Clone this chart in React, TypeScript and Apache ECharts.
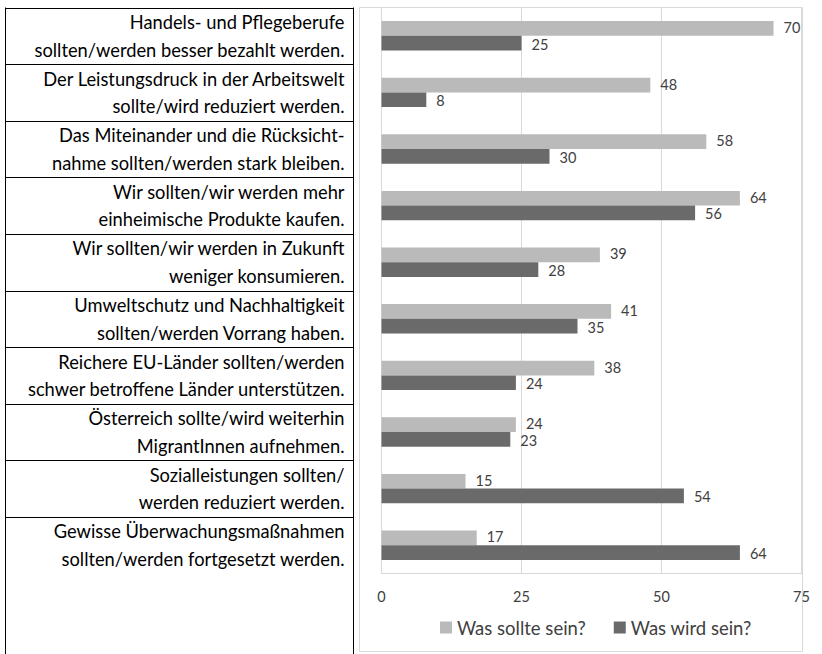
import React, { useEffect, useRef } from "react";
import * as echarts from "echarts";

const categories = [
  "Handels- und Pflegeberufe\nsollten/werden besser bezahlt werden.",
  "Der Leistungsdruck in der Arbeitswelt\nsollte/wird reduziert werden.",
  "Das Miteinander und die Rücksicht-\nnahme sollten/werden stark bleiben.",
  "Wir sollten/wir werden mehr\neinheimische Produkte kaufen.",
  "Wir sollten/wir werden in Zukunft\nweniger konsumieren.",
  "Umweltschutz und Nachhaltigkeit\nsollten/werden Vorrang haben.",
  "Reichere EU-Länder sollten/werden\nschwer betroffene Länder unterstützen.",
  "Österreich sollte/wird weiterhin\nMigrantInnen aufnehmen.",
  "Sozialleistungen sollten/\nwerden reduziert werden.",
  "Gewisse Überwachungsmaßnahmen\nsollten/werden fortgesetzt werden.",
];
const sollteValues = [70, 48, 58, 64, 39, 41, 38, 24, 15, 17];
const wirdValues = [25, 8, 30, 56, 28, 35, 24, 23, 54, 64];
const seriesNames = ["Was sollte sein?", "Was wird sein?"];

const FONT = "Lato, 'Open Sans', sans-serif";
const gridTop = 7.5;
const gridHeight = 566;
const gridLeft = 381.5;
const gridRight = 20.5;
const tableLeft = 5.5;
const tableRight = 353.5;

export default function App() {
  const ref = useRef<HTMLDivElement>(null);
  useEffect(() => {
    if (!ref.current) return;
    const chart = echarts.init(ref.current, null, { renderer: "svg" });
    const rowH = gridHeight / categories.length;
    const lineStyle = { stroke: "#000", lineWidth: 1 };
    const tableGraphics: any[] = [
      { type: "line", shape: { x1: tableLeft, y1: gridTop, x2: tableLeft, y2: 654 }, style: lineStyle },
      { type: "line", shape: { x1: tableRight, y1: gridTop, x2: tableRight, y2: 654 }, style: lineStyle },
    ];
    for (let i = 0; i < categories.length; i++) {
      const y = Math.round(gridTop + i * rowH) + 0.5;
      tableGraphics.push({
        type: "line",
        shape: { x1: tableLeft, y1: y, x2: tableRight, y2: y },
        style: lineStyle,
      });
    }
    const valueLabel = (dy: number) => ({
      show: true,
      position: "right",
      distance: 10,
      offset: [0, dy],
      fontFamily: FONT,
      fontSize: 14.5,
      lineHeight: 13,
      color: "#404040",
    });
    chart.setOption({
      animation: false,
      color: ["#bababa", "#6a6a6a"],
      textStyle: { fontFamily: FONT },
      graphic: [
        {
          type: "rect",
          z: -1,
          shape: { x: 359.5, y: 7.5, width: 443, height: 644 },
          style: { fill: "none", stroke: "#d9d9d9", lineWidth: 1 },
        },
        ...tableGraphics,
      ],
      grid: {
        left: gridLeft,
        right: gridRight,
        top: gridTop,
        height: gridHeight,
        containLabel: false,
      },
      legend: {
        left: 435,
        top: 613,
        itemWidth: 12,
        itemHeight: 12,
        itemGap: 28,
        icon: "rect",
        textStyle: { fontFamily: FONT, fontSize: 18.5, color: "#404040" },
        data: seriesNames,
      },
      xAxis: {
        type: "value",
        min: 0,
        max: 75,
        interval: 25,
        axisLine: { show: true, lineStyle: { color: "#d9d9d9" } },
        axisTick: { show: false },
        splitLine: { show: true, lineStyle: { color: "#d9d9d9", width: 1 } },
        axisLabel: { fontFamily: FONT, fontSize: 14.5, color: "#404040", margin: 15 },
      },
      yAxis: {
        type: "category",
        data: categories,
        inverse: true,
        axisLine: { show: true, lineStyle: { color: "#d9d9d9" } },
        axisTick: { show: false },
        axisLabel: {
          fontFamily: FONT,
          fontSize: 18.3,
          color: "#000",
          align: "right",
          margin: 37,
          lineHeight: 27.5,
          interval: 0,
        },
      },
      series: [
        {
          name: seriesNames[0],
          type: "bar",
          data: sollteValues,
          barGap: "0%",
          barCategoryGap: "48%",
          label: valueLabel(-1),
        },
        {
          name: seriesNames[1],
          type: "bar",
          data: wirdValues,
          barGap: "0%",
          barCategoryGap: "48%",
          label: valueLabel(1),
        },
      ],
    });
    return () => chart.dispose();
  }, []);
  return (
    <div
      ref={ref}
      style={{ position: "fixed", left: 0, top: 0, width: 822, height: 654, background: "#fff" }}
    />
  );
}
